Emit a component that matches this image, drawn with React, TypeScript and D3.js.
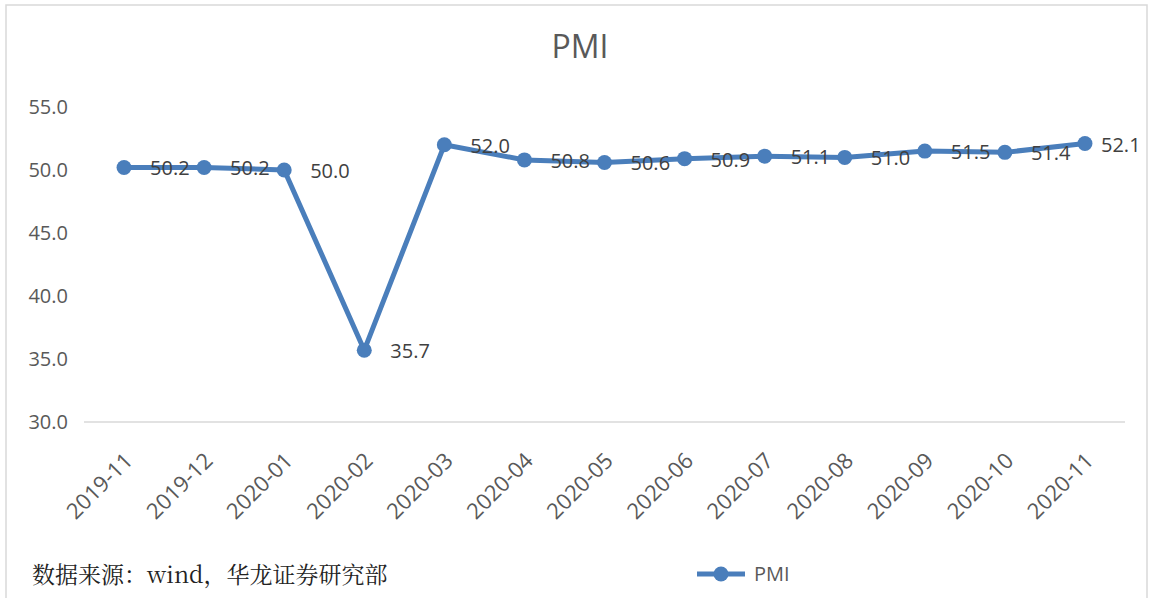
import { useMemo } from "react";
import * as d3 from "d3";

const WIDTH = 1150;
const HEIGHT = 598;

const months = [
  "2019-11", "2019-12", "2020-01", "2020-02", "2020-03", "2020-04", "2020-05",
  "2020-06", "2020-07", "2020-08", "2020-09", "2020-10", "2020-11",
];
const pmi = [50.2, 50.2, 50.0, 35.7, 52.0, 50.8, 50.6, 50.9, 51.1, 51.0, 51.5, 51.4, 52.1];
const yTicks = [30, 35, 40, 45, 50, 55];

const LINE_COLOR = "#4a7ebb";
const TEXT_COLOR = "#595959";
const FONT = "'Open Sans', 'Noto Sans', sans-serif";
const LABEL_SIZE = 20;

export default function App() {
  const MARGIN = { left: 84, right: 25, top: 107, bottom: 176 };
  const boundsHeight = HEIGHT - MARGIN.top - MARGIN.bottom;
  const plotRight = 1141;

  const xScale = useMemo(
    () => d3.scaleBand().domain(months).range([MARGIN.left, WIDTH - MARGIN.right]),
    []
  );
  const yScale = useMemo(
    () => d3.scaleLinear().domain([30, 55]).range([MARGIN.top + boundsHeight, MARGIN.top]),
    []
  );

  const cx = (m: string) => (xScale(m) ?? 0) + xScale.bandwidth() / 2;

  const linePath = d3
    .line<number>()
    .x((_, i) => cx(months[i]))
    .y((d) => yScale(d))(pmi);

  // rough label width so the last label stays inside the chart (like Excel does)
  const labelWidth = (s: string) => s.length * LABEL_SIZE * 0.5;

  return (
    <svg
      width={WIDTH}
      height={HEIGHT}
      style={{ position: "absolute", left: 0, top: 0, background: "#fff" }}
    >
      <rect x={6} y={5} width={1141} height={600} fill="#fff" stroke="#d9d9d9" strokeWidth={1.5} />
      <text x={580} y={58} textAnchor="middle" fontFamily={FONT} fontSize={32} fill={TEXT_COLOR}>
        PMI
      </text>

      {/* y axis labels */}
      {yTicks.map((t) => (
        <text
          key={t}
          x={68}
          y={yScale(t)}
          dy="0.35em"
          textAnchor="end"
          fontFamily={FONT}
          fontSize={LABEL_SIZE}
          fill={TEXT_COLOR}
        >
          {t.toFixed(1)}
        </text>
      ))}
      <line
        x1={MARGIN.left}
        x2={WIDTH - MARGIN.right}
        y1={yScale(30)}
        y2={yScale(30)}
        stroke="#d9d9d9"
        strokeWidth={1.5}
      />

      {/* x axis labels */}
      {months.map((m) => (
        <text
          key={m}
          transform={`translate(${cx(m) + 10},${yScale(30) + 40}) rotate(-45)`}
          textAnchor="end"
          fontFamily={FONT}
          fontSize={22}
          fill={TEXT_COLOR}
        >
          {m}
        </text>
      ))}

      <path d={linePath ?? ""} fill="none" stroke={LINE_COLOR} strokeWidth={5} strokeLinejoin="round" />
      {pmi.map((v, i) => (
        <circle key={i} cx={cx(months[i])} cy={yScale(v)} r={7.5} fill={LINE_COLOR} />
      ))}
      {pmi.map((v, i) => {
        const s = v.toFixed(1);
        const x = Math.min(cx(months[i]) + 26, plotRight - labelWidth(s));
        return (
          <text
            key={i}
            x={x}
            y={yScale(v) + 1}
            dy="0.35em"
            fontFamily={FONT}
            fontSize={LABEL_SIZE}
            fill="#404040"
          >
            {s}
          </text>
        );
      })}

      {/* source note */}
      <text x={32} y={583} fontFamily="'Noto Serif CJK SC', 'Noto Sans CJK SC', serif" fontSize={23} fill="#222">
        数据来源：wind，华龙证券研究部
      </text>

      {/* legend */}
      <line x1={697} x2={745} y1={574} y2={574} stroke={LINE_COLOR} strokeWidth={5} />
      <circle cx={721} cy={574} r={7.5} fill={LINE_COLOR} />
      <text x={754} y={574} dy="0.35em" fontFamily={FONT} fontSize={LABEL_SIZE} fill={TEXT_COLOR}>
        PMI
      </text>
    </svg>
  );
}
